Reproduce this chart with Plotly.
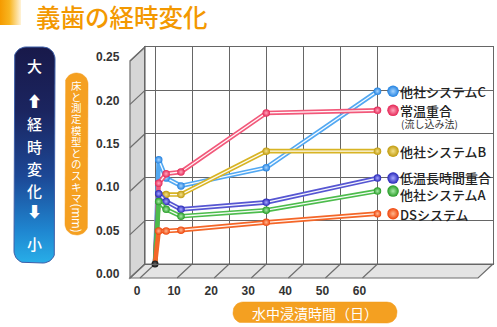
import plotly.graph_objects as go
import numpy as np

# ---------------- data ----------------
days = [0, 1, 3, 7, 30, 60]
series_names = ["他社システムC", "常温重合", "他社システムB", "低温長時間重合", "他社システムA", "DSシステム"]
sys_c = [0, 0.120, 0.099, 0.090, 0.111, 0.199]
joon = [0, 0.093, 0.104, 0.106, 0.174, 0.177]
sys_b = [0, 0.080, 0.080, 0.080, 0.130, 0.130]
teion = [0, 0.081, 0.072, 0.063, 0.071, 0.099]
sys_a = [0, 0.072, 0.063, 0.055, 0.062, 0.084]
ds = [0, 0.038, 0.038, 0.039, 0.048, 0.058]
series_values = [sys_c, joon, sys_b, teion, sys_a, ds]
y_ticks = [0, 0.05, 0.10, 0.15, 0.20, 0.25]
y_ticktext = ["0.00", "0.05", "0.10", "0.15", "0.20", "0.25"]
x_ticks = [0, 10, 20, 30, 40, 50, 60]
x_ticktext = ["0", "10", "20", "30", "40", "50", "60"]

# ---------------- styles ----------------
line_colors = ["#52a8f2", "#f2587a", "#d8b424", "#5656d2", "#4cbc4c", "#f46628"]
marker_colors = ["#1f80e0", "#e42454", "#c09a0c", "#2626b8", "#249a24", "#ee4208"]
marker_hilite = ["#a6d4ff", "#ffa6bc", "#f4e08a", "#a8a8ff", "#a8eaa8", "#ffb890"]
label_yshift = [0, 0, 0, 1, -3, -1]

W, H = 497, 327
BX0, BX1, BY0, BY1 = 145, 493, 47, 264
X0PX, PXPD = 155.0, 3.708
DX, DY = -15, 14
xr = [(BX0 - X0PX) / PXPD, (BX1 - X0PX) / PXPD]


def P(x, y):
    return x / W, 1 - y / H


def poly_path(pts):
    s = ""
    for i, (x, y) in enumerate(pts):
        px, py = P(x, y)
        s += ("M" if i == 0 else "L") + f"{px:.5f},{py:.5f}"
    return s + "Z"


def rrect(x0, y0, x1, y1, r, n=10):
    xs, ys = [], []
    corners = [(x1 - r, y0 + r, -90, 0), (x1 - r, y1 - r, 0, 90),
               (x0 + r, y1 - r, 90, 180), (x0 + r, y0 + r, 180, 270)]
    for cx, cy, a0, a1 in corners:
        for a in np.linspace(np.radians(a0), np.radians(a1), n):
            xs.append(cx + r * np.cos(a))
            ys.append(cy + r * np.sin(a))
    xs.append(xs[0]); ys.append(ys[0])
    return xs, ys


fig = go.Figure()

for name, vals, lc, mc, hc in zip(series_names, series_values, line_colors, marker_colors, marker_hilite):
    fig.add_trace(go.Scatter(x=days, y=vals, mode="lines", line=dict(color=lc, width=4.6),
                             hoverinfo="skip", showlegend=False, cliponaxis=False))
    fig.add_trace(go.Scatter(x=days[1:], y=vals[1:], mode="lines+markers", name=name,
                             line=dict(color="rgba(255,255,255,0.95)", width=1.3),
                             marker=dict(size=7.5, color=mc,
                                         gradient=dict(type="radial", color=hc)),
                             showlegend=False, cliponaxis=False))
fig.add_trace(go.Scatter(x=[days[0]], y=[sys_c[0]], mode="markers",
                         marker=dict(size=7, color="#111111", gradient=dict(type="radial", color="#666666")),
                         showlegend=False, cliponaxis=False))

ball_x = 64.2
fig.add_trace(go.Scatter(x=[ball_x] * len(series_values), y=[v[-1] for v in series_values],
                         mode="markers",
                         marker=dict(size=11.5, color=marker_colors,
                                     gradient=dict(type="radial", color=marker_hilite)),
                         showlegend=False, cliponaxis=False, hoverinfo="skip"))

# ---------------- decorations on pixel overlay axes ----------------
bx, by = rrect(14, 47, 55, 263, 12)
fig.add_trace(go.Scatter(x=bx, y=by, xaxis="x2", yaxis="y2", mode="lines", fill="toself",
                         line=dict(color="#3c5ea8", width=1),
                         fillgradient=dict(type="vertical", start=47, stop=263,
                                           colorscale=[[0, "#18194a"], [0.3, "#1b2560"],
                                                       [0.6, "#1c4896"], [0.85, "#1f86d0"],
                                                       [1, "#28aee8"]]),
                         hoverinfo="skip", showlegend=False))
ox, oy = rrect(65, 73, 88, 235, 11)
fig.add_trace(go.Scatter(x=ox, y=oy, xaxis="x2", yaxis="y2", mode="lines", fill="toself",
                         line=dict(color="#f39a1a", width=0.5), fillcolor="#f5a021",
                         hoverinfo="skip", showlegend=False))
lx, ly = rrect(233, 302, 397, 323, 10)
fig.add_trace(go.Scatter(x=lx, y=ly, xaxis="x2", yaxis="y2", mode="lines", fill="toself",
                         line=dict(color="#f39a1a", width=0.5), fillcolor="#f4a021",
                         hoverinfo="skip", showlegend=False))
fig.add_trace(go.Scatter(x=[0, 21, 21, 0, 0], y=[0, 0, 25, 25, 0], xaxis="x2", yaxis="y2",
                         mode="lines", fill="toself", line=dict(width=0),
                         fillgradient=dict(type="horizontal", start=0, stop=21,
                                           colorscale=[[0, "#f59a00"], [0.45, "#f8b520"],
                                                       [1, "#fff3d8"]]),
                         hoverinfo="skip", showlegend=False))

shapes = []
shapes.append(dict(type="path", xref="paper", yref="paper", layer="below",
                   path=poly_path([(BX0, BY0), (BX0 + DX, BY0 + DY), (BX0 + DX, BY1 + DY), (BX0, BY1)]),
                   fillcolor="#d6d6d6", line=dict(color="#6e6e6e", width=1.2)))
shapes.append(dict(type="path", xref="paper", yref="paper", layer="below",
                   path=poly_path([(BX0, BY1), (BX1, BY1), (BX1 + DX, BY1 + DY), (BX0 + DX, BY1 + DY)]),
                   fillcolor="#e4e4e4", line=dict(color="#6e6e6e", width=1.2)))
for v in y_ticks:
    yb = BY1 - (BY1 - BY0) * v / 0.25
    x0p, y0p = P(BX0, yb)
    x1p, y1p = P(BX0 + DX, yb + DY)
    shapes.append(dict(type="line", xref="paper", yref="paper", layer="below",
                       x0=x0p, y0=y0p, x1=x1p, y1=y1p, line=dict(color="#6e6e6e", width=1.2)))
for v in x_ticks:
    xb = X0PX + PXPD * v
    x0p, y0p = P(xb, BY1)
    x1p, y1p = P(xb + DX, BY1 + DY)
    shapes.append(dict(type="line", xref="paper", yref="paper", layer="below",
                       x0=x0p, y0=y0p, x1=x1p, y1=y1p, line=dict(color="#6e6e6e", width=1.2)))

annotations = []
annotations.append(dict(xref="x2", yref="y2", x=34, y=16, xanchor="left", yanchor="middle",
                        text="義歯の経時変化", showarrow=False,
                        font=dict(family="Noto Sans CJK JP", size=24.5, color="#f39800", weight=500)))
for ch, yy in [("大", 65), ("⬆", 100), ("経", 123), ("時", 146), ("変", 168), ("化", 190),
               ("⬇", 210), ("小", 243)]:
    annotations.append(dict(xref="x2", yref="y2", x=34.5, y=yy, text=ch, showarrow=False,
                            xanchor="center", yanchor="middle",
                            font=dict(family="Noto Sans CJK JP", size=15, color="white", weight=500)))
ychars = "床と測定模型とのスキマ"
for i, ch in enumerate(ychars):
    annotations.append(dict(xref="x2", yref="y2", x=76.5, y=85 + i * 11.27, text=ch,
                            showarrow=False, xanchor="center", yanchor="middle",
                            font=dict(family="Noto Sans CJK JP", size=10.5, color="white")))
annotations.append(dict(xref="x2", yref="y2", x=76.5, y=218, text="(mm)", textangle=90,
                        showarrow=False, xanchor="center", yanchor="middle",
                        font=dict(family="Noto Sans CJK JP", size=11.5, color="white")))
annotations.append(dict(xref="x2", yref="y2", x=315, y=312.5, text="水中浸漬時間（日）",
                        showarrow=False, xanchor="center", yanchor="middle",
                        font=dict(family="Noto Sans CJK JP", size=14, color="white")))
for name, vals, ys in zip(series_names, series_values, label_yshift):
    annotations.append(dict(xref="x", yref="y", x=days[-1], y=vals[-1], xshift=21, yshift=ys,
                            text=name, showarrow=False, xanchor="left", yanchor="middle",
                            font=dict(family="Noto Sans CJK JP", size=13, color="#222222",
                                      weight=500)))
annotations.append(dict(xref="x", yref="y", x=days[-1], y=joon[-1], xshift=22, yshift=-13,
                        text="(流し込み法)", showarrow=False, xanchor="left", yanchor="middle",
                        font=dict(family="Noto Sans CJK JP", size=10, color="#333333")))

tick_font = dict(family="Liberation Sans", size=12, color="#333333", weight="bold")
fig.update_layout(
    width=W, height=H, margin=dict(l=0, r=0, t=0, b=0, pad=0, autoexpand=False),
    paper_bgcolor="white", plot_bgcolor="rgba(0,0,0,0)",
    showlegend=False,
    xaxis=dict(domain=[BX0 / W, BX1 / W], range=xr, tickvals=x_ticks, ticktext=x_ticktext,
               showgrid=True, gridcolor="#666666", gridwidth=1.3, zeroline=False,
               showline=True, mirror=True, linecolor="#666666", linewidth=1.3, automargin=False,
               ticks="", tickfont=tick_font, ticklabelshift=-18, ticklabelstandoff=15),
    yaxis=dict(domain=[1 - BY1 / H, 1 - BY0 / H], range=[0, 0.25], tickvals=y_ticks,
               ticktext=y_ticktext, showgrid=True, gridcolor="#666666", gridwidth=1.3,
               zeroline=False, showline=True, mirror=True, linecolor="#666666", linewidth=1.3,
               automargin=False,
               ticks="", tickfont=tick_font, ticklabelshift=10, ticklabelstandoff=22),
    xaxis2=dict(domain=[0, 1], range=[0, W], anchor="y2", visible=False, fixedrange=True,
                automargin=False),
    yaxis2=dict(domain=[0, 1], range=[H, 0], anchor="x2", visible=False, fixedrange=True,
                automargin=False),
    shapes=shapes, annotations=annotations,
)

fig.write_html("out.html")
